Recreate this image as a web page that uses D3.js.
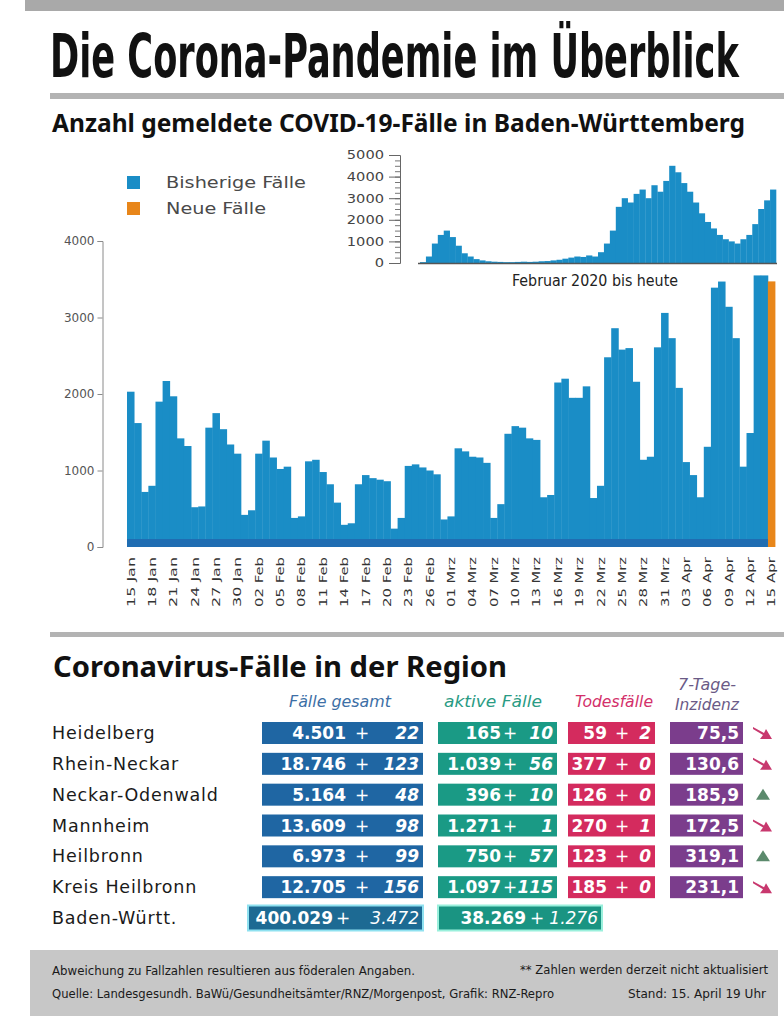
<!DOCTYPE html>
<html>
<head>
<meta charset="utf-8">
<script src="https://cdn.jsdelivr.net/npm/d3@7"></script>
<style>
  body { margin: 0; background: #fff; }
  svg { display: block; }
</style>
</head>
<body>
<div id="chart"></div>
<script>
// daily reported cases Baden-Württemberg, 15 Jan - 14 Apr 2021
const bisherigeFaelle = [
  2030, 1620, 720, 800, 1900, 2170, 1970, 1420, 1320, 520, 530, 1560, 1750, 1540, 1340, 1220, 420,
  480, 1220, 1390, 1170, 1020, 1050, 380, 400, 1120, 1140, 980, 820, 580, 290, 310, 820, 940, 900, 880, 860, 240, 380, 1060, 1080, 1040, 1000, 950, 360,
  400, 1290, 1250, 1180, 1170, 1100, 380, 560, 1480, 1580, 1560, 1420, 1400, 650, 680, 2150, 2200, 1950, 1950, 2100, 640, 800, 2480, 2860, 2580, 2600, 2160, 1140, 1180, 2610, 3060,
  2730, 2080, 1110, 940, 650, 1310, 3390, 3470, 3140, 2730, 1050, 1490, 3550, 3550
];
const neueFaelle = [3472]; // 15 Apr

const xTickLabels = ["15 Jan", "18 Jan", "21 Jan", "24 Jan", "27 Jan", "30 Jan", "02 Feb", "05 Feb", "08 Feb",
  "11 Feb", "14 Feb", "17 Feb", "20 Feb", "23 Feb", "26 Feb", "01 Mrz", "04 Mrz", "07 Mrz", "10 Mrz", "13 Mrz",
  "16 Mrz", "19 Mrz", "22 Mrz", "25 Mrz", "28 Mrz", "31 Mrz", "03 Apr", "06 Apr", "09 Apr", "12 Apr", "15 Apr"];
const yTicksMain = [0, 1000, 2000, 3000, 4000];

// inset: Februar 2020 bis heute (about weekly steps)
const insetValues = [40, 300, 900, 1300, 1500, 1200, 800, 450, 300, 180,
  120, 80, 60, 50, 40, 40, 50, 60, 50, 60,
  80, 90, 120, 150, 200, 250, 300, 280, 350, 300,
  500, 900, 1500, 2600, 3000, 2800, 3200, 3400, 3000, 3600,
  3300, 3800, 4500, 4200, 3700, 3300, 2800, 2300, 1900, 1600,
  1300, 1100, 1000, 900, 1100, 1300, 1800, 2500, 2900, 3400];
const insetTicks = [0, 1000, 2000, 3000, 4000, 5000];

// table
const regionen = ["Heidelberg", "Rhein-Neckar", "Neckar-Odenwald", "Mannheim", "Heilbronn", "Kreis Heilbronn", "Baden-Württ."];
const faelleGesamt = ["4.501", "18.746", "5.164", "13.609", "6.973", "12.705", "400.029"];
const faelleGesamtNeu = ["22", "123", "48", "98", "99", "156", "3.472"];
const aktiveFaelle = ["165", "1.039", "396", "1.271", "750", "1.097", "38.269"];
const aktiveFaelleNeu = ["10", "56", "10", "1", "57", "115", "1.276"];
const todesfaelle = ["59", "377", "126", "270", "123", "185"];
const todesfaelleNeu = ["2", "0", "0", "1", "0", "0"];
const inzidenz = ["75,5", "130,6", "185,9", "172,5", "319,1", "231,1"];
const trend = ["down", "down", "up", "down", "up", "down"];

const W = 784, H = 1016;
const blue = "#1a8dc6", orange = "#e8861a";
const narrow = "'Liberation Sans Narrow', 'DejaVu Sans Condensed', 'Liberation Sans', sans-serif";
const sans = "'Noto Sans', 'Open Sans', 'DejaVu Sans', sans-serif";
const dejavu = "'DejaVu Sans', sans-serif";

const svg = d3.select("#chart").append("svg")
  .attr("width", W).attr("height", H)
  .attr("viewBox", [0, 0, W, H]);

// header
svg.append("rect").attr("x", 25).attr("y", 0).attr("width", W - 25).attr("height", 11).attr("fill", "#a9a9a9");
const title = svg.append("text")
  .attr("font-family", narrow).attr("font-weight", 700).attr("font-size", 60).attr("fill", "#111")
  .text("Die Corona-Pandemie im Überblick");
// squeeze the headline to its printed width
const titleW = title.node().getComputedTextLength();
title.attr("transform", `translate(50,77) scale(${689 / titleW},1)`);

svg.append("rect").attr("x", 50).attr("y", 93).attr("width", W - 50).attr("height", 6).attr("fill", "#b3b3b3");
svg.append("text").attr("x", 52).attr("y", 132)
  .attr("font-family", sans).attr("font-weight", 700).attr("font-size", 25)
  .attr("textLength", 693).attr("lengthAdjust", "spacingAndGlyphs").attr("fill", "#111")
  .text("Anzahl gemeldete COVID-19-Fälle in Baden-Württemberg");

// ---- main bar chart ----
const de = d3.timeFormatLocale({
  dateTime: "%A, der %e. %B %Y, %X", date: "%d.%m.%Y", time: "%H:%M:%S", periods: ["AM", "PM"],
  days: ["Sonntag", "Montag", "Dienstag", "Mittwoch", "Donnerstag", "Freitag", "Samstag"],
  shortDays: ["So", "Mo", "Di", "Mi", "Do", "Fr", "Sa"],
  months: ["Januar", "Februar", "März", "April", "Mai", "Juni", "Juli", "August", "September", "Oktober", "November", "Dezember"],
  shortMonths: ["Jan", "Feb", "Mrz", "Apr", "Mai", "Jun", "Jul", "Aug", "Sep", "Okt", "Nov", "Dez"]
});
const fmt = de.format("%d %b");
const days = d3.timeDay.range(new Date(2021, 0, 15), new Date(2021, 3, 16)).map(fmt);

const bars = bisherigeFaelle.map((v, i) => ({ key: days[i], value: v, type: "alt" }))
  .concat(neueFaelle.map((v, i) => ({ key: days[bisherigeFaelle.length + i], value: v, type: "neu" })));

const x = d3.scaleBand().domain(days).range([127, 775]).padding(0);
const y = d3.scaleLinear().domain([0, 4000]).range([547, 241]);

svg.append("g")
  .selectAll("rect")
  .data(bars)
  .join("rect")
  .attr("x", d => x(d.key))
  .attr("width", x.bandwidth() + 0.4)
  .attr("y", d => y(d.value))
  .attr("height", d => y(0) - y(d.value))
  .attr("fill", d => d.type === "neu" ? orange : blue);

// darker foot of the bars
svg.append("rect")
  .attr("x", x(days[0])).attr("y", y(0) - 8)
  .attr("width", x(days[bisherigeFaelle.length - 1]) + x.bandwidth() - x(days[0]))
  .attr("height", 8).attr("fill", "#1f6db2");

const yAxis = svg.append("g")
  .attr("transform", "translate(102.5,0)")
  .call(d3.axisLeft(y).tickValues(yTicksMain).tickSize(5).tickPadding(3).tickFormat(d3.format("d")));
yAxis.select(".domain").attr("stroke", "#8a8a8a");
yAxis.selectAll(".tick line").attr("stroke", "#8a8a8a");
yAxis.selectAll("text").attr("font-family", dejavu).attr("font-size", 12).attr("fill", "#555");

const xAxis = svg.append("g")
  .attr("transform", `translate(0,${y(0)})`)
  .call(d3.axisBottom(x).tickValues(xTickLabels).tickSize(0));
xAxis.select(".domain").remove();
xAxis.selectAll("text")
  .attr("transform", "rotate(-90)")
  .attr("text-anchor", "end")
  .attr("x", -10).attr("y", 0).attr("dy", "0.36em")
  .attr("font-family", dejavu).attr("font-size", 11).attr("fill", "#333")
  .attr("textLength", 50).attr("lengthAdjust", "spacingAndGlyphs");

// legend
const legend = svg.append("g")
  .selectAll("g")
  .data([["Bisherige Fälle", blue, 140], ["Neue Fälle", orange, 100]])
  .join("g")
  .attr("transform", (d, i) => `translate(127,${176 + i * 26})`);
legend.append("rect").attr("width", 13).attr("height", 13).attr("fill", d => d[1]);
legend.append("text").attr("x", 39).attr("y", 12)
  .attr("font-family", dejavu).attr("font-size", 15).attr("fill", "#4a4a4a")
  .attr("textLength", d => d[2]).attr("lengthAdjust", "spacingAndGlyphs")
  .text(d => d[0]);

// ---- inset ----
const xi = d3.scaleBand().domain(d3.range(insetValues.length)).range([420, 776]).padding(0);
const yi = d3.scaleLinear().domain([0, 5000]).range([263, 155]);

svg.append("g")
  .selectAll("rect")
  .data(insetValues)
  .join("rect")
  .attr("x", (d, i) => xi(i))
  .attr("width", xi.bandwidth() + 0.3)
  .attr("y", d => yi(d))
  .attr("height", d => yi(0) - yi(d))
  .attr("fill", blue);

svg.append("line").attr("x1", 418).attr("x2", 777).attr("y1", yi(0) + 0.5).attr("y2", yi(0) + 0.5)
  .attr("stroke", "#555").attr("stroke-width", 1.5);

const minor = svg.append("g").attr("transform", "translate(400,0)")
  .call(d3.axisLeft(yi).tickValues(d3.range(0, 5001, 250)).tickSize(5).tickFormat(""));
minor.select(".domain").remove();
minor.selectAll("line").attr("stroke", "#777");

const yiAxis = svg.append("g").attr("transform", "translate(400,0)")
  .call(d3.axisLeft(yi).tickValues(insetTicks).tickSize(11).tickPadding(5).tickFormat(d3.format("d")));
yiAxis.select(".domain").attr("stroke", "#666");
yiAxis.selectAll(".tick line").attr("stroke", "#666");
yiAxis.selectAll("text").attr("font-family", dejavu).attr("font-size", 12).attr("fill", "#444")
  .each(function(d) { d3.select(this).attr("textLength", String(d).length * 9.3).attr("lengthAdjust", "spacingAndGlyphs"); });

svg.append("text").attr("x", 512).attr("y", 286)
  .attr("font-family", narrow).attr("font-size", 16).attr("fill", "#222")
  .attr("textLength", 166).attr("lengthAdjust", "spacingAndGlyphs")
  .text("Februar 2020 bis heute");

// ---- region table ----
svg.append("rect").attr("x", 50).attr("y", 632).attr("width", W - 50).attr("height", 5).attr("fill", "#b3b3b3");
svg.append("text").attr("x", 53).attr("y", 677)
  .attr("font-family", sans).attr("font-weight", 700).attr("font-size", 28)
  .attr("textLength", 454).attr("lengthAdjust", "spacingAndGlyphs").attr("fill", "#111")
  .text("Coronavirus-Fälle in der Region");

const headers = [
  { t: "Fälle gesamt", x: 340, y: 707, len: 102, c: "#3d6fa6" },
  { t: "aktive Fälle", x: 493, y: 707, len: 98, c: "#2a9b84" },
  { t: "Todesfälle", x: 614, y: 707, len: 78, c: "#d3306a" },
  { t: "7-Tage-", x: 707, y: 690, len: 58, c: "#6a5a86" },
  { t: "Inzidenz", x: 707, y: 710, len: 64, c: "#6a5a86" }
];
svg.append("g").selectAll("text").data(headers).join("text")
  .attr("x", d => d.x).attr("y", d => d.y).attr("text-anchor", "middle")
  .attr("font-family", narrow).attr("font-style", "italic").attr("font-size", 15)
  .attr("textLength", d => d.len).attr("lengthAdjust", "spacingAndGlyphs")
  .attr("fill", d => d.c).text(d => d.t);

const row = d3.scalePoint().domain(regionen).range([733, 918]);

svg.append("g").selectAll("text").data(regionen).join("text")
  .attr("x", 52).attr("y", d => row(d) + 6)
  .attr("font-family", dejavu).attr("font-size", 17.5).attr("letter-spacing", 0.8).attr("fill", "#1a1a1a")
  .text(d => d);

const cols = [
  { num: faelleGesamt, delta: faelleGesamtNeu, fill: "#1f66a3", x0: 262, x1: 423, numEnd: 346, plusX: 362, deltaEnd: 419,
    bw: { x0: 248, numEnd: 333, plusX: 343, fill: "#1d6a93", stroke: "#8fe1f0" } },
  { num: aktiveFaelle, delta: aktiveFaelleNeu, fill: "#1a9a85", x0: 438, x1: 557, numEnd: 501, plusX: 510, deltaEnd: 553,
    bw: { x0: 438, x1: 602, numEnd: 526, plusX: 537, deltaEnd: 598, fill: "#1a9482", stroke: "#9af0dc" } },
  { num: todesfaelle, delta: todesfaelleNeu, fill: "#d42b5e", x0: 568, x1: 655, numEnd: 607, plusX: 622, deltaEnd: 651 },
  { num: inzidenz, delta: null, fill: "#7b3d8c", x0: 670, x1: 743, numEnd: 739 }
];

const cells = [];
cols.forEach(c => {
  c.num.forEach((v, i) => {
    const isBW = regionen[i] === "Baden-Württ.";
    const o = Object.assign({}, c, isBW ? c.bw : {});
    cells.push({ region: regionen[i], v, d: c.delta ? c.delta[i] : null, o, isBW });
  });
});

const cell = svg.append("g").selectAll("g").data(cells).join("g")
  .attr("transform", d => `translate(0,${row(d.region)})`);
cell.append("rect")
  .attr("x", d => d.o.x0).attr("width", d => d.o.x1 - d.o.x0)
  .attr("y", d => d.isBW ? -12.5 : -11).attr("height", d => d.isBW ? 25 : 22)
  .attr("fill", d => d.o.fill)
  .attr("stroke", d => d.isBW ? d.o.stroke : "none").attr("stroke-width", 2);
const cellText = s => s.attr("font-family", dejavu).attr("font-weight", 700).attr("font-size", 17)
  .attr("fill", "#fff").attr("y", 6);
cell.append("text").call(cellText)
  .attr("x", d => d.o.numEnd).attr("text-anchor", "end").text(d => d.v);
cell.filter(d => d.d !== null).append("text").call(cellText)
  .attr("x", d => d.o.plusX).attr("text-anchor", "middle").attr("font-weight", 400).text("+");
cell.filter(d => d.d !== null).append("text").call(cellText)
  .attr("x", d => d.o.deltaEnd).attr("text-anchor", "end").attr("font-style", "italic")
  .attr("font-weight", d => d.isBW ? 400 : 700).text(d => d.d);

// trend arrows
svg.append("g").selectAll("path").data(trend).join("path")
  .attr("transform", (d, i) => `translate(763,${row(regionen[i])})`)
  .attr("d", d => d === "down"
    ? "M-10,-6 L1,0 L3,-4 L9,6 L-3,6 L0,2 L-10,-4 Z"
    : "M-7,5 L0,-6 L7,5 Z")
  .attr("fill", d => d === "down" ? "#c8386e" : "#5b8a6c");

// ---- footer ----
svg.append("rect").attr("x", 30).attr("y", 950).attr("width", 748).attr("height", 66).attr("fill", "#c7c7c7");
const foot = [
  { t: "Abweichung zu Fallzahlen resultieren aus föderalen Angaben.", x: 52, y: 975, len: 363, a: "start" },
  { t: "Quelle: Landesgesundh. BaWü/Gesundheitsämter/RNZ/Morgenpost, Grafik: RNZ-Repro", x: 52, y: 998, len: 502, a: "start" },
  { t: "** Zahlen werden derzeit nicht aktualisiert", x: 768, y: 974, len: 248, a: "end" },
  { t: "Stand: 15. April 19 Uhr", x: 766, y: 998, len: 138, a: "end" }
];
svg.append("g").selectAll("text").data(foot).join("text")
  .attr("x", d => d.x).attr("y", d => d.y).attr("text-anchor", d => d.a)
  .attr("font-family", narrow).attr("font-size", 12.5).attr("fill", "#1a1a1a")
  .attr("textLength", d => d.len).attr("lengthAdjust", "spacingAndGlyphs")
  .text(d => d.t);
</script>
</body>
</html>
